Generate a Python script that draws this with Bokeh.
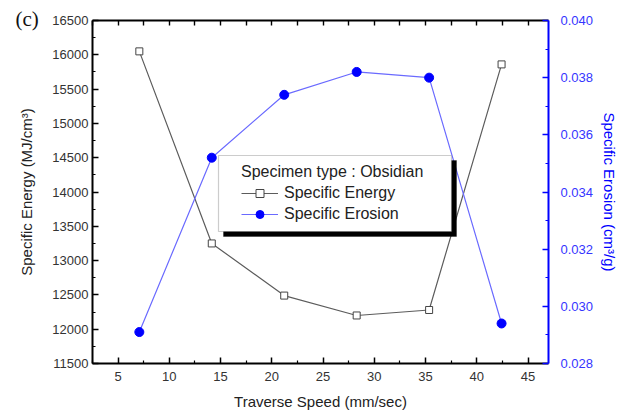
from bokeh.plotting import figure
from bokeh.models import (LinearAxis, Range1d, FixedTicker, NumeralTickFormatter,
                          Legend, LegendItem, BoxAnnotation)
from bokeh.embed import file_html
from bokeh.resources import INLINE

# ---- data ----
speed = [7.07, 14.14, 21.21, 28.28, 35.35, 42.42]
specific_energy = [16050, 13250, 12490, 12200, 12280, 15860]
specific_erosion = [0.0291, 0.0352, 0.0374, 0.0382, 0.0380, 0.0294]

x_ticks = [5, 10, 15, 20, 25, 30, 35, 40, 45]
x_minor = [2.5, 7.5, 12.5, 17.5, 22.5, 27.5, 32.5, 37.5, 42.5]
energy_ticks = [11500, 12000, 12500, 13000, 13500, 14000, 14500, 15000, 15500, 16000, 16500]
energy_minor = [11750, 12250, 12750, 13250, 13750, 14250, 14750, 15250, 15750, 16250]
erosion_ticks = [0.028, 0.030, 0.032, 0.034, 0.036, 0.038, 0.040]
erosion_minor = [0.029, 0.031, 0.033, 0.035, 0.037, 0.039]

FONT = "Liberation Sans"
BLUE = "#0000ff"
BLUE_TXT = "#3535ff"
W, H = 623, 413
FL, FR, FT, FB = 92, 548, 20, 363  # frame edges (px)

p = figure(width=W, height=H, output_backend="svg", toolbar_location=None,
           x_range=Range1d(2.5, 47), y_range=Range1d(11500, 16500),
           min_border_left=FL, min_border_right=W - FR,
           min_border_top=FT, min_border_bottom=H - FB,
           x_axis_location=None, y_axis_location=None)
p.extra_y_ranges = {"erosion": Range1d(0.028, 0.040)}
p.xgrid.visible = False
p.ygrid.visible = False
p.outline_line_color = None
p.background_fill_color = "white"
p.border_fill_color = "white"

# panel letter "(c)" as the plot title, pulled to the top-left corner
p.title.text = "(c)"
p.title.align = "left"
p.title.offset = 15 - FL
p.title.standoff = -20
p.title.vertical_align = "bottom"
p.title.text_font = "Liberation Serif"
p.title.text_font_size = "21px"
p.title.text_font_style = "normal"
p.title.text_color = "#111111"


def style(ax, color="black", txt="#333333"):
    ax.axis_line_color = color
    ax.axis_line_width = 2
    ax.major_tick_line_color = color
    ax.minor_tick_line_color = color
    ax.major_tick_line_width = 1.5
    ax.minor_tick_line_width = 1.2
    ax.major_tick_in = 6
    ax.major_tick_out = 0
    ax.minor_tick_in = 3
    ax.minor_tick_out = 0
    ax.major_label_text_font = FONT
    ax.major_label_text_font_size = "13px"
    ax.major_label_text_color = txt
    ax.axis_label_text_font = FONT
    ax.axis_label_text_font_size = "15px"
    ax.axis_label_text_font_style = "normal"
    ax.axis_label_text_color = "#222222" if color == "black" else BLUE


xb = LinearAxis(ticker=FixedTicker(ticks=x_ticks, minor_ticks=x_minor),
                axis_label="Traverse Speed (mm/sec)")
style(xb)
xb.major_label_standoff = 8
xb.axis_label_standoff = 9
p.add_layout(xb, "below")

# top frame edge: tick marks only (no labels)
xt = LinearAxis(ticker=FixedTicker(ticks=[], minor_ticks=x_ticks + x_minor))
style(xt)
xt.minor_tick_in = 5
xt.minor_tick_line_width = 1.4
xt.major_label_standoff = 0
p.add_layout(xt, "above")

yl = LinearAxis(ticker=FixedTicker(ticks=energy_ticks, minor_ticks=energy_minor),
                axis_label="Specific Energy (MJ/cm³)")
style(yl)
yl.major_label_standoff = 4
yl.axis_label_standoff = 14
p.add_layout(yl, "left")

yr = LinearAxis(y_range_name="erosion",
                ticker=FixedTicker(ticks=erosion_ticks, minor_ticks=erosion_minor),
                formatter=NumeralTickFormatter(format="0.000"),
                axis_label="Specific Erosion (cm³/g)")
style(yr, color=BLUE, txt=BLUE_TXT)
yr.major_label_standoff = 12
yr.axis_label_standoff = 5
p.add_layout(yr, "right")

# ---- series ----
l1 = p.line(speed, specific_energy, line_color="#5c5c5c", line_width=1.2)
s1 = p.scatter(speed, specific_energy, marker="square", size=7,
               fill_color="white", line_color="#444444", line_width=1)
l2 = p.line(speed, specific_erosion, y_range_name="erosion",
            line_color="#6a6aff", line_width=1.2)
s2 = p.scatter(speed, specific_erosion, y_range_name="erosion", marker="circle",
               size=9, fill_color=BLUE, line_color=BLUE)

# ---- legend frame with shadow ----
shadow = BoxAnnotation(left=223, right=456, top=160, bottom=236,
                       left_units="canvas", right_units="canvas",
                       top_units="canvas", bottom_units="canvas",
                       fill_color="black", fill_alpha=1, line_color="black")
box = BoxAnnotation(left=218, right=451, top=155, bottom=231,
                    left_units="canvas", right_units="canvas",
                    top_units="canvas", bottom_units="canvas",
                    fill_color="white", fill_alpha=1,
                    line_color="#555555", line_width=1.2)
p.add_layout(shadow)
p.add_layout(box)

legend = Legend(items=[LegendItem(label="Specific Energy", renderers=[l1, s1]),
                       LegendItem(label="Specific Erosion", renderers=[l2, s2])],
                title="Specimen type : Obsidian",
                location=(241 - FL, FB - 224),
                padding=0, margin=0, spacing=1,
                background_fill_alpha=0, border_line_alpha=0,
                glyph_width=37, glyph_height=20, label_height=20,
                label_standoff=6, title_standoff=2,
                label_text_font=FONT, label_text_font_size="16px",
                label_text_color="#222222",
                title_text_font=FONT, title_text_font_size="16px",
                title_text_font_style="normal", title_text_color="#222222")
p.add_layout(legend, "center")

open("out.html", "w").write(file_html(p, INLINE))
